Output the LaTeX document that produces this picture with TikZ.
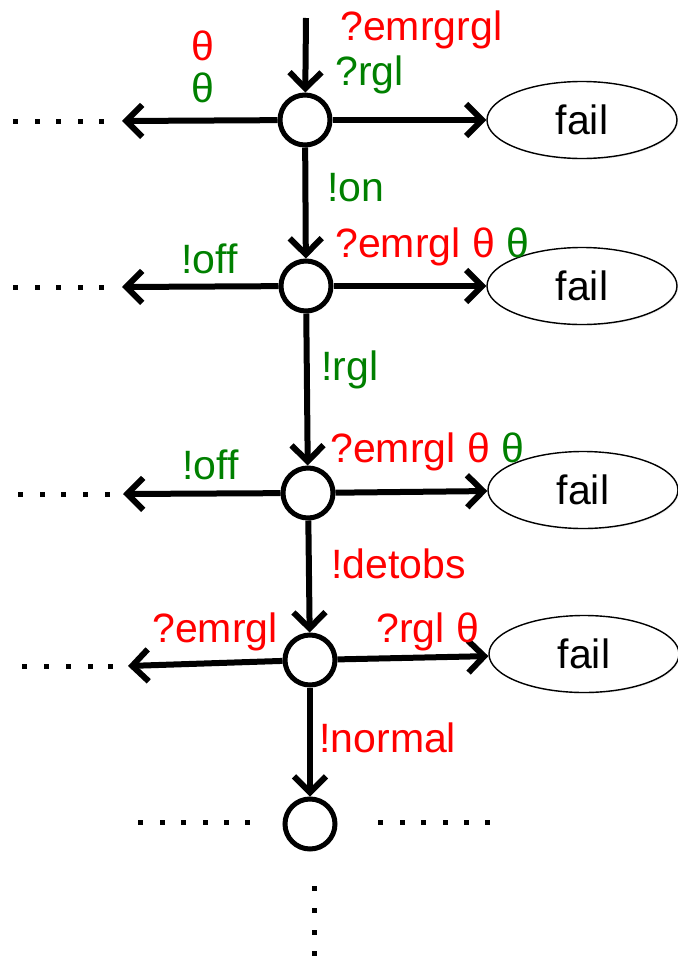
\documentclass[tikz,border=0pt]{standalone}
\usepackage{fontspec}
\setmainfont{Liberation Sans}
\usetikzlibrary{arrows.meta,shapes.geometric,shadows}
\definecolor{lblred}{RGB}{255,0,0}
\definecolor{lblgreen}{RGB}{0,128,0}

\begin{document}
\begin{tikzpicture}[x=0.5pt,y=-0.5pt,font=\fontsize{20.5}{24}\selectfont,
  state/.style={draw,circle,line width=2.5pt,minimum size=25pt,inner sep=0pt},
  failnode/.style={draw,ellipse,line width=0.7pt,fill=white,minimum width=95pt,minimum height=38.5pt,
    drop shadow={shadow xshift=0.6pt,shadow yshift=-0.6pt,opacity=0.15}},
  trans/.style={line width=3pt,-{Straight Barb[length=8pt,width=16pt]}},
  lbl/.style={inner sep=0pt,anchor=base west}]
  \useasboundingbox (0,0) rectangle (677,959);
  % states down the middle
  \node[state] (n1) at (305,120) {};
  \node[state] (n2) at (306,286) {};
  \node[state] (n3) at (308,493) {};
  \node[state] (n4) at (310,660) {};
  \node[state] (n5) at (310,824) {};
  % failure states on the right
  \node[failnode] (f1) at (582,120) {fail};
  \node[failnode] (f2) at (582,286) {fail};
  \node[failnode] (f3) at (583,490) {fail};
  \node[failnode] (f4) at (584,654) {fail};
  % loose ends on the left
  \coordinate (in) at (306,18);
  \coordinate (o1) at (122,121);
  \coordinate (o2) at (122,287);
  \coordinate (o3) at (123,494);
  \coordinate (o4) at (128,666);
  % transitions
  \draw[trans] (in)--(n1);
  \draw[trans] (n1)--(n2);
  \draw[trans] (n2)--(n3);
  \draw[trans] (n3)--(n4);
  \draw[trans] (n4)--(n5);
  \draw[trans] (n1)--(f1);
  \draw[trans] (n2)--(f2);
  \draw[trans] (n3)--(f3);
  \draw[trans] (n4)--(f4);
  \draw[trans] (n1)--(o1);
  \draw[trans] (n2)--(o2);
  \draw[trans] (n3)--(o3);
  \draw[trans] (n4)--(o4);
  % labels
  \node[inner sep=0pt,anchor=base,text=lblred] (t1) at (203,60) {θ};
  \node[inner sep=0pt,anchor=base,text=lblgreen] (t2) at (203,102) {θ};
  \node[lbl,text=lblred] (l1) at (340,40) {?emrgrgl};
  \node[lbl,text=lblgreen] (l2) at (335,85) {?rgl};
  \node[lbl,text=lblgreen] (l3) at (327,201) {!on};
  \node[lbl,text=lblred] (l4) at (335,257) {?emrgl θ \textcolor{lblgreen}{θ}};
  \node[lbl,text=lblgreen] (l5) at (181,273) {!off};
  \node[lbl,text=lblgreen] (l6) at (321,380) {!rgl};
  \node[lbl,text=lblred] (l7) at (330,462) {?emrgl θ \textcolor{lblgreen}{θ}};
  \node[lbl,text=lblgreen] (l8) at (182,479) {!off};
  \node[lbl,text=lblred] (l9) at (331,578) {!detobs};
  \node[lbl,text=lblred] (l10) at (152,642) {?emrgl};
  \node[lbl,text=lblred] (l11) at (376,642) {?rgl θ};
  \node[lbl,text=lblred] (l12) at (319,752) {!normal};
  % dotted continuations
  \foreach \x in {15,37,58,80,101} \fill (\x-2.5,118.5) rectangle ++(5,5);
  \foreach \x in {15,37,58,80,101} \fill (\x-2.5,284.5) rectangle ++(5,5);
  \foreach \x in {20,42,63,85,107} \fill (\x-2.5,491.5) rectangle ++(5,5);
  \foreach \x in {24,46,68,90,110} \fill (\x-2.5,663.5) rectangle ++(5,5);
  \foreach \x in {140,162,183,205,226,247,380,402,423,445,466,487} \fill (\x-2.5,819.5) rectangle ++(5,5);
  \foreach \y in {888,910,932,953} \fill (311.5,\y-2.5) rectangle ++(5,5);
\end{tikzpicture}
\end{document}
